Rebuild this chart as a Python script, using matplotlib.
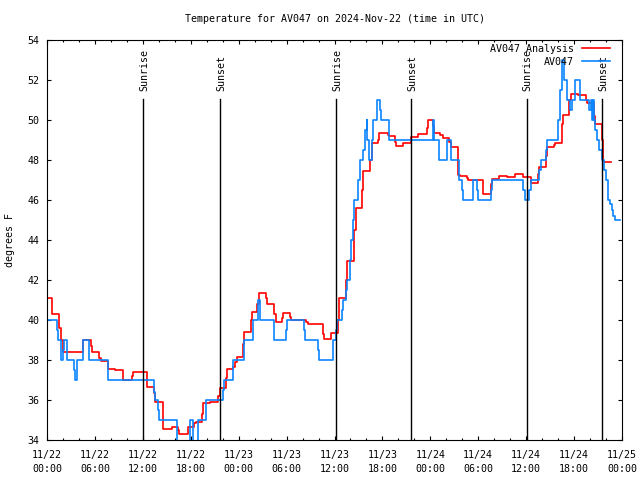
import matplotlib
matplotlib.use('Agg')
import matplotlib.pyplot as plt
import matplotlib.transforms as mtransforms
from matplotlib.ticker import FixedLocator, MultipleLocator

plt.rcParams['font.family'] = 'DejaVu Sans Mono'
plt.rcParams['font.size'] = 7.2

# hours since 2024-11-22 00:00 UTC, temperature in F (step data)
analysis_h = [0.0, 0.58, 1.54, 1.71, 1.96, 4.47, 5.51, 5.68, 6.55, 6.72, 7.6, 8.55,
              9.56, 10.6, 10.81, 12.48, 12.56, 13.44, 13.57, 14.48, 14.57, 15.61,
              16.45, 16.57, 17.6, 18.4, 18.6, 19.45, 19.57, 20.4, 21.45, 21.66,
              22.41, 22.58, 23.25, 23.54, 23.75, 24.5, 24.67, 25.5, 25.63, 26.34,
              26.59, 27.42, 27.59, 28.47, 28.63, 29.47, 29.59, 30.43, 30.55, 32.43,
              32.64, 34.52, 34.69, 35.55, 36.5, 36.6, 37.44, 37.6, 38.44, 38.65,
              39.49, 39.61, 40.45, 40.65, 41.49, 41.61, 42.66, 42.86, 43.58, 43.7,
              44.54, 45.58, 46.5, 47.54, 47.75, 48.29, 48.5, 49.21, 49.54, 50.37,
              50.55, 51.5, 51.71, 52.55, 52.67, 54.55, 54.63, 55.55, 55.68, 56.64,
              57.56, 58.6, 59.56, 59.73, 60.56, 61.52, 61.65, 62.48, 62.57, 63.49,
              63.61, 64.45, 64.57, 65.4, 65.57, 66.45, 66.66, 67.5, 67.66, 68.5,
              68.62, 69.45, 69.58, 70.58]
analysis_t = [41.1, 40.3, 39.6, 39.0, 38.4, 39.0, 38.7, 38.4, 38.1, 37.95, 37.55, 37.5,
              37.0, 37.2, 37.4, 37.0, 36.67, 36.33, 35.9, 35.2, 34.53, 34.67,
              34.5, 34.28, 34.67, 34.87, 34.9, 35.3, 35.85, 35.9, 36.2, 36.6,
              37.1, 37.55, 37.67, 37.9, 38.17, 38.8, 39.4, 40.0, 40.4, 40.8,
              41.33, 41.1, 40.8, 40.3, 39.92, 40.1, 40.33, 40.15, 40.0, 39.9,
              39.8, 39.3, 39.03, 39.35, 40.0, 41.08, 42.0, 42.95, 44.5, 45.58,
              46.5, 47.45, 48.0, 48.83, 49.0, 49.33, 49.25, 49.2, 48.9, 48.72,
              48.83, 49.13, 49.3, 49.6, 50.0, 49.7, 49.37, 49.25, 49.1, 48.9,
              48.67, 47.25, 47.2, 47.1, 47.0, 46.6, 46.28, 46.8, 47.03, 47.22,
              47.13, 47.28, 47.17, 47.13, 46.83, 47.3, 47.67, 48.2, 48.63, 48.75,
              48.83, 49.8, 50.23, 51.0, 51.3, 51.25, 51.23, 51.0, 50.83, 50.2,
              49.8, 49.0, 47.88, 47.88]

obs_h = [0.0, 0.04, 1.29, 1.42, 1.75, 2.04, 2.17, 2.55, 3.42, 3.55, 3.8, 4.47,
         4.55, 5.3, 7.6, 13.44, 13.57, 13.94, 14.07, 16.24, 17.9, 18.24, 18.95,
         19.9, 22.0, 22.2, 23.25, 24.67, 25.76, 26.47, 26.67, 28.47, 29.88,
         30.01, 32.22, 32.3, 33.97, 34.1, 35.77, 36.15, 36.27, 36.9, 37.02,
         37.44, 37.6, 37.94, 38.06, 38.27, 38.48, 38.9, 39.2, 39.61, 39.82,
         40.03, 40.12, 40.36, 40.65, 40.86, 41.36, 41.7, 41.82, 42.86, 48.29,
         48.37, 48.46, 49.12, 50.12, 50.55, 51.63, 51.92, 52.13, 53.38, 53.88,
         54.0, 55.55, 55.76, 59.64, 59.85, 60.39, 60.56, 61.65, 61.82, 62.48,
         62.65, 64.03, 64.24, 64.45, 64.74, 65.07, 65.49, 65.7, 66.12, 66.74,
         67.91, 68.08, 68.2, 68.33, 68.45, 68.62, 68.91, 69.16, 69.45, 69.75,
         70.0, 70.29, 70.5, 70.7, 70.91, 71.12, 71.74]
obs_t = [41.0, 40.0, 39.5, 39.0, 38.0, 38.5, 39.0, 38.0, 37.5, 37.0, 38.0, 38.5,
         39.0, 38.0, 37.0, 36.4, 36.0, 35.5, 35.0, 33.5, 35.0, 33.5, 35.0,
         36.0, 36.5, 37.0, 38.0, 39.0, 40.0, 41.0, 40.0, 39.0, 39.5,
         40.0, 39.5, 39.0, 38.5, 38.0, 39.0, 39.5, 40.0, 40.5, 41.0,
         41.5, 42.0, 43.0, 44.0, 45.0, 46.0, 47.0, 48.0, 48.5, 49.5,
         50.0, 49.0, 48.0, 49.0, 50.0, 51.0, 50.5, 50.0, 49.0, 49.5,
         50.0, 49.0, 48.0, 49.0, 48.0, 47.0, 46.5, 46.0, 47.0, 46.5,
         46.0, 46.5, 47.0, 46.5, 46.0, 46.5, 47.0, 47.5, 48.0, 48.5,
         49.0, 50.0, 51.5, 53.0, 52.0, 51.0, 50.5, 51.0, 52.0, 51.0,
         50.5, 51.0, 50.0, 51.0, 50.0, 49.5, 49.0, 48.5, 48.0, 47.5,
         47.0, 46.0, 45.8, 45.5, 45.2, 45.0, 45.0]

sun_h = [12.02, 21.66, 36.15, 45.6, 60.05, 69.55]
sun_labels = ['Sunrise', 'Sunset', 'Sunrise', 'Sunset', 'Sunrise', 'Sunset']

tick_h = list(range(0, 73, 6))
tick_labels = ['11/22\n00:00', '11/22\n06:00', '11/22\n12:00', '11/22\n18:00',
               '11/23\n00:00', '11/23\n06:00', '11/23\n12:00', '11/23\n18:00',
               '11/24\n00:00', '11/24\n06:00', '11/24\n12:00', '11/24\n18:00',
               '11/25\n00:00']

fig = plt.figure(figsize=(6.4, 4.8), dpi=100)
ax = fig.add_axes([47 / 640, 40 / 480, 575 / 640, 400 / 480])

ax.plot(analysis_h, analysis_t, drawstyle='steps-post', color='#ff0000', lw=1.2,
        label='AV047 Analysis')
ax.plot(obs_h, obs_t, drawstyle='steps-post', color='#0a84ff', lw=1.2,
        label='AV047')

trans = mtransforms.blended_transform_factory(ax.transData, ax.transAxes)
for h, lab in zip(sun_h, sun_labels):
    ax.plot([h, h], [0, 0.853], color='black', lw=1.0, transform=trans)
    ax.text(h + 0.15, 0.872, lab, rotation=90, ha='center', va='bottom',
            transform=trans, fontsize=7.2)

ax.set_xlim(0, 72)
ax.set_ylim(34, 54)
ax.xaxis.set_major_locator(FixedLocator(tick_h))
ax.set_xticklabels(tick_labels, linespacing=1.5)
ax.xaxis.set_minor_locator(MultipleLocator(2))
ax.yaxis.set_major_locator(MultipleLocator(2))
ax.tick_params(which='both', direction='in', top=True, right=True, width=0.8)
ax.tick_params(which='major', length=3.0)
ax.tick_params(which='minor', length=1.7)
ax.tick_params(axis='x', pad=7)
ax.tick_params(axis='y', pad=5.5)
for s in ax.spines.values():
    s.set_linewidth(0.8)

ax.set_ylabel('degrees F')
ax.yaxis.set_label_coords(-0.056, 0.5)
fig.text(0.523, 1 - 19 / 480, 'Temperature for AV047 on 2024-Nov-22 (time in UTC)',
         ha='center', va='center')

ax.legend(loc='upper right', bbox_to_anchor=((610 - 47) / 575, (440 - 44) / 400),
          frameon=False, markerfirst=False, handlelength=2.83, handletextpad=0.8,
          borderpad=0, borderaxespad=0, labelspacing=0.3)

fig.savefig('out.png', dpi=100)
